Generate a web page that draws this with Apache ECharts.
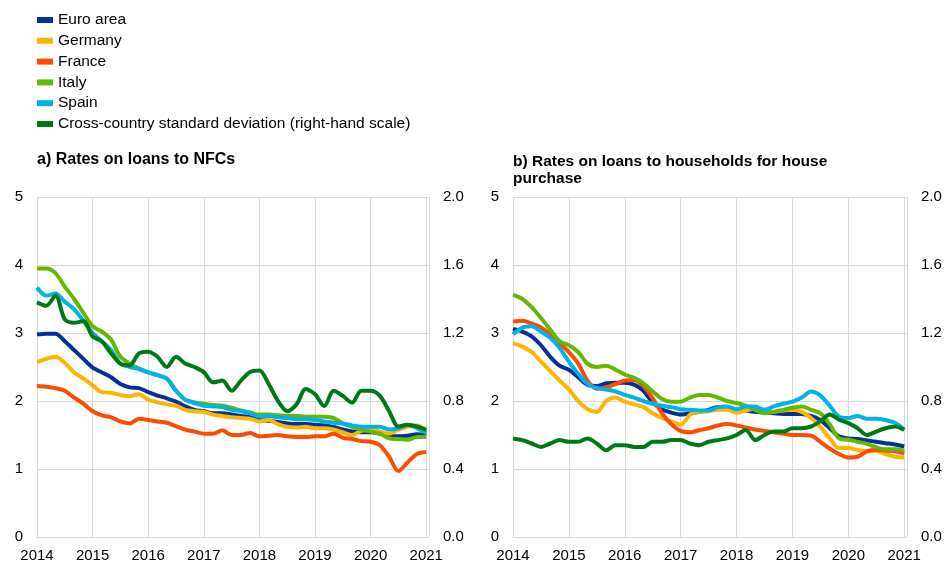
<!DOCTYPE html>
<html>
<head>
<meta charset="utf-8">
<title>Lending rates</title>
<script src="https://cdn.jsdelivr.net/npm/echarts@6/dist/echarts.min.js"></script>
<style>
  html, body { margin: 0; padding: 0; background: #fff; }
  #chart { width: 945px; height: 564px; }
</style>
</head>
<body>
<div id="chart"></div>
<script>
// bi-monthly observations, Jan 2014 .. Jan 2021
var dates = [];
for (var y = 2014; y <= 2020; y++) {
    ['01', '03', '05', '07', '09', '11'].forEach(function (m) { dates.push(y + '-' + m); });
}
dates.push('2021-01');

var seriesNames = ['Euro area', 'Germany', 'France', 'Italy', 'Spain',
    'Cross-country standard deviation (right-hand scale)'];
var colors = ['#003299', '#ffb400', '#ff4b00', '#65b800', '#00b1ea', '#007816'];

var xTicks = [2014, 2015, 2016, 2017, 2018, 2019, 2020, 2021];
var leftTicks = [0, 1, 2, 3, 4, 5];
var rightTicks = [0, 0.4, 0.8, 1.2, 1.6, 2.0];

// a) NFCs
var nfcEuro = [2.98, 2.99, 2.99, 2.88, 2.75, 2.62, 2.49, 2.42, 2.35, 2.25, 2.20, 2.19,
    2.13, 2.08, 2.04, 1.99, 1.92, 1.87, 1.85, 1.82, 1.82, 1.80, 1.78, 1.76,
    1.72, 1.71, 1.69, 1.67, 1.66, 1.66, 1.65, 1.64, 1.62, 1.58, 1.55, 1.54,
    1.54, 1.52, 1.49, 1.48, 1.49, 1.51, 1.50];
var nfcGermany = [2.57, 2.62, 2.65, 2.56, 2.42, 2.33, 2.23, 2.13, 2.12, 2.09, 2.07, 2.10,
    2.02, 1.98, 1.95, 1.93, 1.87, 1.85, 1.84, 1.80, 1.78, 1.76, 1.75, 1.74,
    1.70, 1.72, 1.66, 1.62, 1.61, 1.62, 1.60, 1.60, 1.58, 1.54, 1.50, 1.56,
    1.58, 1.55, 1.52, 1.58, 1.62, 1.64, 1.57];
var nfcFrance = [2.22, 2.21, 2.19, 2.15, 2.05, 1.96, 1.85, 1.79, 1.76, 1.70, 1.67, 1.74,
    1.72, 1.70, 1.68, 1.63, 1.58, 1.55, 1.52, 1.52, 1.57, 1.50, 1.50, 1.53,
    1.48, 1.49, 1.50, 1.48, 1.47, 1.47, 1.48, 1.48, 1.52, 1.46, 1.44, 1.41,
    1.40, 1.35, 1.18, 0.97, 1.10, 1.22, 1.25];
var nfcItaly = [3.95, 3.95, 3.88, 3.68, 3.50, 3.30, 3.10, 3.02, 2.90, 2.65, 2.55, 2.48,
    2.42, 2.38, 2.33, 2.15, 2.02, 1.98, 1.96, 1.94, 1.93, 1.90, 1.86, 1.83,
    1.80, 1.80, 1.79, 1.78, 1.78, 1.77, 1.77, 1.77, 1.75, 1.67, 1.62, 1.58,
    1.55, 1.52, 1.45, 1.44, 1.43, 1.47, 1.47];
var nfcSpain = [3.67, 3.55, 3.58, 3.46, 3.35, 3.18, 3.00, 2.88, 2.75, 2.55, 2.50, 2.47,
    2.42, 2.38, 2.33, 2.15, 2.02, 1.97, 1.93, 1.92, 1.91, 1.87, 1.85, 1.82,
    1.77, 1.78, 1.76, 1.75, 1.73, 1.73, 1.72, 1.70, 1.68, 1.67, 1.64, 1.62,
    1.62, 1.62, 1.58, 1.60, 1.65, 1.60, 1.53];
var nfcStd = [1.38, 1.36, 1.42, 1.28, 1.26, 1.27, 1.18, 1.15, 1.08, 1.02, 1.01, 1.08,
    1.09, 1.06, 1.00, 1.06, 1.02, 1.00, 0.97, 0.91, 0.92, 0.86, 0.92, 0.97,
    0.98, 0.90, 0.80, 0.74, 0.78, 0.87, 0.84, 0.77, 0.86, 0.83, 0.79, 0.86,
    0.86, 0.83, 0.74, 0.65, 0.66, 0.65, 0.63];

// b) households for house purchase
var hhEuro = [3.06, 3.02, 2.95, 2.82, 2.65, 2.52, 2.46, 2.35, 2.24, 2.22, 2.26, 2.27,
    2.27, 2.24, 2.15, 1.98, 1.88, 1.83, 1.80, 1.82, 1.84, 1.87, 1.91, 1.90,
    1.87, 1.86, 1.84, 1.83, 1.82, 1.81, 1.81, 1.81, 1.78, 1.72, 1.60, 1.48,
    1.45, 1.44, 1.42, 1.40, 1.38, 1.36, 1.33];
var hhGermany = [2.85, 2.80, 2.72, 2.58, 2.44, 2.30, 2.17, 2.00, 1.88, 1.84, 2.00, 2.05,
    1.99, 1.95, 1.91, 1.82, 1.75, 1.70, 1.65, 1.80, 1.84, 1.85, 1.87, 1.87,
    1.83, 1.86, 1.89, 1.85, 1.84, 1.86, 1.87, 1.84, 1.75, 1.62, 1.45, 1.31,
    1.31, 1.28, 1.26, 1.27, 1.22, 1.18, 1.17];
var hhFrance = [3.17, 3.18, 3.14, 3.08, 2.98, 2.85, 2.72, 2.55, 2.30, 2.18, 2.20, 2.25,
    2.30, 2.31, 2.22, 2.04, 1.82, 1.66, 1.56, 1.54, 1.57, 1.60, 1.64, 1.66,
    1.64, 1.61, 1.58, 1.56, 1.54, 1.52, 1.50, 1.50, 1.49, 1.40, 1.30, 1.22,
    1.17, 1.18, 1.26, 1.28, 1.27, 1.26, 1.23];
var hhItaly = [3.56, 3.50, 3.38, 3.22, 3.05, 2.88, 2.82, 2.72, 2.55, 2.50, 2.52, 2.46,
    2.39, 2.34, 2.26, 2.14, 2.03, 1.99, 1.99, 2.05, 2.09, 2.09, 2.05, 2.00,
    1.97, 1.93, 1.87, 1.82, 1.84, 1.87, 1.90, 1.92, 1.87, 1.82, 1.66, 1.45,
    1.43, 1.40, 1.37, 1.32, 1.29, 1.29, 1.27];
var hhSpain = [2.98, 3.08, 3.10, 3.02, 2.93, 2.78, 2.58, 2.40, 2.25, 2.19, 2.17, 2.14,
    2.09, 2.05, 2.00, 1.96, 1.93, 1.91, 1.88, 1.87, 1.86, 1.86, 1.91, 1.92,
    1.88, 1.92, 1.92, 1.87, 1.92, 1.96, 1.99, 2.05, 2.14, 2.08, 1.93, 1.77,
    1.75, 1.78, 1.74, 1.74, 1.72, 1.68, 1.58];
var hhStd = [0.58, 0.57, 0.55, 0.53, 0.55, 0.57, 0.56, 0.56, 0.58, 0.55, 0.51, 0.54,
    0.54, 0.53, 0.53, 0.56, 0.56, 0.57, 0.57, 0.55, 0.54, 0.56, 0.57, 0.58,
    0.60, 0.63, 0.57, 0.60, 0.62, 0.62, 0.64, 0.64, 0.65, 0.68, 0.72, 0.69,
    0.67, 0.64, 0.60, 0.62, 0.64, 0.65, 0.63];

var panels = [
    [nfcEuro, nfcGermany, nfcFrance, nfcItaly, nfcSpain, nfcStd],
    [hhEuro, hhGermany, hhFrance, hhItaly, hhSpain, hhStd]
];

function toYear(d) {
    var p = d.split('-');
    return +p[0] + (+p[1] - 1) / 12;
}

var font = 'Liberation Sans, Arial, sans-serif';
var myChart = echarts.init(document.getElementById('chart'));

var xAxes = [], yAxes = [], series = [];
[0, 1].forEach(function (g) {
    xAxes.push({
        type: 'value', gridIndex: g,
        min: xTicks[0], max: xTicks[xTicks.length - 1] + 0.05, interval: 1,
        axisLine: { show: false }, axisTick: { show: false },
        axisLabel: {
            color: '#000', fontSize: 15, fontFamily: font, margin: 11,
            formatter: function (v) { return xTicks.indexOf(v) >= 0 ? String(v) : ''; }
        },
        splitLine: { show: true, lineStyle: { color: '#d9d9d9', width: 1 } }
    });
    yAxes.push({
        type: 'value', gridIndex: g, position: 'left',
        min: leftTicks[0], max: leftTicks[leftTicks.length - 1], interval: 1,
        axisLine: { show: false }, axisTick: { show: false },
        axisLabel: { color: '#000', fontSize: 15, fontFamily: font, margin: 14 },
        splitLine: { show: true, lineStyle: { color: '#d9d9d9', width: 1 } }
    });
    yAxes.push({
        type: 'value', gridIndex: g, position: 'right',
        min: rightTicks[0], max: rightTicks[rightTicks.length - 1], interval: 0.4,
        axisLine: { show: false }, axisTick: { show: false },
        axisLabel: {
            color: '#000', fontSize: 15, fontFamily: font, margin: 14,
            formatter: function (v) { return v.toFixed(1); }
        },
        splitLine: { show: false }
    });
    panels[g].forEach(function (vals, i) {
        series.push({
            name: seriesNames[i],
            type: 'line',
            xAxisIndex: g,
            yAxisIndex: g * 2 + (i === 5 ? 1 : 0),
            data: vals.map(function (v, k) { return [toYear(dates[k]), v]; }),
            showSymbol: false,
            smooth: 0.3,
            lineStyle: { color: colors[i], width: 4 },
            itemStyle: { color: colors[i] },
            z: i === 5 ? 3 : 2
        });
    });
});

var option = {
    animation: false,
    textStyle: { fontFamily: font },
    title: [{
        text: 'a) Rates on loans to NFCs',
        left: 37, top: 152, padding: 0,
        textStyle: { fontSize: 16, fontWeight: 'bold', color: '#000', fontFamily: font }
    }, {
        text: 'b) Rates on loans to households for house\npurchase',
        left: 513, top: 153, padding: 0,
        textStyle: { fontSize: 15.5, fontWeight: 'bold', color: '#000', fontFamily: font, lineHeight: 17 }
    }],
    legend: {
        orient: 'vertical', left: 37, top: 12, padding: 0,
        icon: 'rect', itemWidth: 16, itemHeight: 6, itemGap: 4.8,
        textStyle: { fontSize: 15.5, color: '#000', fontFamily: font, lineHeight: 15 },
        data: seriesNames
    },
    grid: [
        { left: 37, top: 197, width: 392, height: 340 },
        { left: 513, top: 197, width: 394, height: 340 }
    ],
    xAxis: xAxes,
    yAxis: yAxes,
    series: series
};
myChart.setOption(option);
</script>
</body>
</html>
